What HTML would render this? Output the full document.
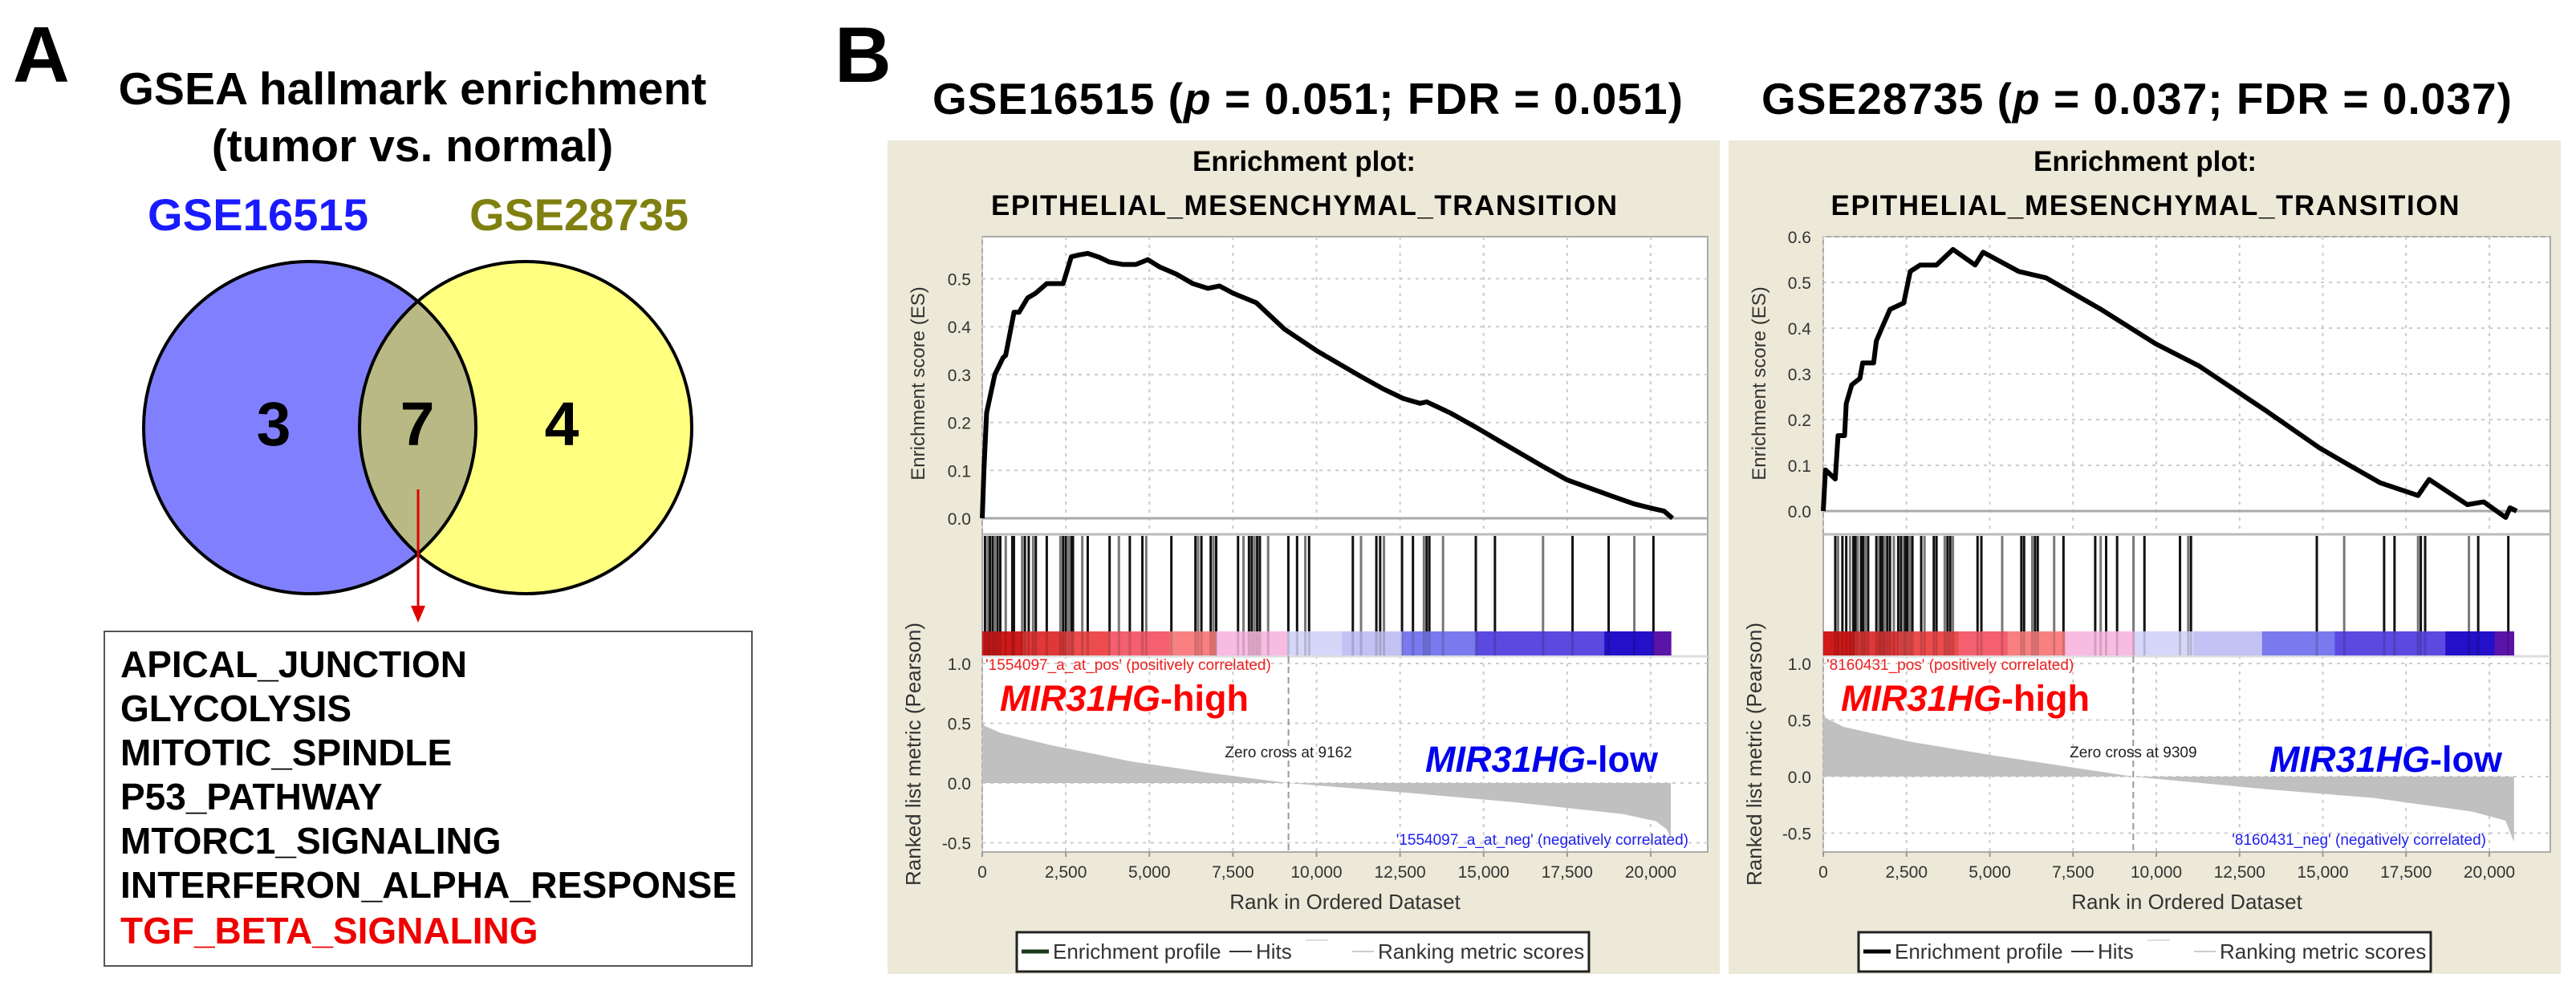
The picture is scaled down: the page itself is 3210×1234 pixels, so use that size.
<!DOCTYPE html>
<html><head><meta charset="utf-8"><style>
html,body{margin:0;padding:0;background:#fff}
svg{display:block;font-family:"Liberation Sans",Arial,sans-serif}
</style></head><body>
<svg id="fig" width="3210" height="1234" viewBox="0 0 3210 1234" xmlns="http://www.w3.org/2000/svg">
<rect x="0" y="0" width="3210" height="1234" fill="#fff"/>
<!-- Panel A -->
<g>
<text x="16" y="102" font-size="98" font-weight="bold">A</text>
<text x="514" y="130" font-size="57" font-weight="bold" text-anchor="middle">GSEA hallmark enrichment</text>
<text x="514" y="201" font-size="57" font-weight="bold" text-anchor="middle">(tumor vs. normal)</text>
<text x="184" y="287" font-size="56" font-weight="bold" fill="#1a1aff" textLength="275">GSE16515</text>
<text x="585" y="287" font-size="56" font-weight="bold" fill="#808010" textLength="273">GSE28735</text>
<defs><clipPath id="cl"><circle cx="386" cy="533" r="207"/></clipPath></defs>
<circle cx="386" cy="533" r="207" fill="#8080ff"/>
<circle cx="655" cy="533" r="207" fill="#ffff80"/>
<circle cx="655" cy="533" r="207" fill="#b9b985" clip-path="url(#cl)"/>
<circle cx="386" cy="533" r="207" fill="none" stroke="#000" stroke-width="4"/>
<circle cx="655" cy="533" r="207" fill="none" stroke="#000" stroke-width="4"/>
<text x="341" y="555" font-size="77" font-weight="bold" text-anchor="middle">3</text>
<text x="520" y="555" font-size="77" font-weight="bold" text-anchor="middle">7</text>
<text x="700" y="555" font-size="77" font-weight="bold" text-anchor="middle">4</text>
<line x1="521" y1="610" x2="521" y2="762" stroke="#e00000" stroke-width="3"/>
<polygon points="512,755 530,755 521,776" fill="#e00000"/>
<rect x="130" y="787" width="807" height="417" fill="#fff" stroke="#555" stroke-width="2"/>
<g font-size="46" font-weight="bold">
<text x="150" y="844">APICAL_JUNCTION</text>
<text x="150" y="899">GLYCOLYSIS</text>
<text x="150" y="954">MITOTIC_SPINDLE</text>
<text x="150" y="1009">P53_PATHWAY</text>
<text x="150" y="1064">MTORC1_SIGNALING</text>
<text x="150" y="1119" textLength="768">INTERFERON_ALPHA_RESPONSE</text>
<text x="150" y="1176" fill="#ee0000">TGF_BETA_SIGNALING</text>
</g>
</g>
<text x="1040" y="102" font-size="98" font-weight="bold">B</text>
<g id="p1"></g>
<g id="p2"></g>
</svg>
<script>
// ---- data: GSE16515 ----
const es1Rank = [0,50,130,376,620,700,950,1100,1357,1600,1930,2200,2420,2665,2900,3156,3500,3800,4200,4600,4955,5300,5800,6300,6750,7100,7500,8200,9040,10000,11330,12000,12600,13100,13300,14000,14770,15500,16730,17500,18850,19500,20080,20400,20650];
const es1Val  = [0,0.10,0.22,0.30,0.335,0.34,0.43,0.43,0.46,0.47,0.49,0.49,0.49,0.546,0.55,0.553,0.545,0.535,0.53,0.53,0.54,0.525,0.51,0.49,0.48,0.485,0.47,0.45,0.395,0.35,0.296,0.27,0.25,0.24,0.243,0.22,0.19,0.16,0.11,0.08,0.046,0.03,0.02,0.015,0];
const hits1 = [82,164,229,311,376,458,540,703,899,948,1194,1276,1390,1521,1603,1930,2338,2420,2502,2584,2666,2715,2993,3156,3810,4088,4415,4791,4906,5658,6378,6459,6557,6835,6917,6999,7653,7817,7980,8062,8144,8226,8307,8553,9158,9419,9665,9779,11087,11333,11791,11905,12019,12559,12886,13213,13295,13377,13786,14767,15339,16778,17661,18741,19509,20081];
const metric1Rank = [0,60,540,2010,4460,6920,9162,12640,15910,19180,20160,20490,20600];
const metric1Val  = [0.53,0.48,0.42,0.32,0.18,0.08,0,-0.08,-0.16,-0.26,-0.32,-0.39,-0.47];
const bar1Edges = [0,1194,2502,3810,5609,6999,9125,10760,12559,14767,18610,20081,20605];
const zeroCross1 = 9162;
// ---- data: GSE28735 ----
const es2Rank = [0,66,360,444,640,690,855,1100,1183,1512,1594,1758,2005,2416,2613,2909,3400,3895,4560,4800,5868,6690,8340,9975,11290,13260,14900,15730,16715,17860,18190,19340,19830,20490,20620,20820];
const es2Val  = [0,0.09,0.07,0.165,0.165,0.235,0.276,0.29,0.324,0.324,0.372,0.40,0.441,0.455,0.524,0.538,0.538,0.572,0.538,0.566,0.524,0.51,0.441,0.366,0.317,0.221,0.138,0.103,0.062,0.034,0.069,0.014,0.02,-0.014,0.007,0];
const hits2 = [361,444,575,690,805,904,969,1035,1134,1199,1265,1347,1594,1676,1725,1791,1840,1922,2004,2119,2251,2333,2415,2465,2530,2612,2678,2941,3040,3319,3401,3647,3730,3812,3894,4633,4748,5373,5948,6030,6276,6358,6440,6933,7213,8166,8330,8494,8823,9316,9644,10712,10959,11041,14820,15642,16841,17153,17860,17942,18073,19387,19666,20570];
const metric2Rank = [0,60,610,2580,5040,7510,9309,13260,16550,19500,20490,20740];
const metric2Val  = [0.58,0.52,0.44,0.31,0.19,0.08,0,-0.11,-0.19,-0.31,-0.39,-0.58];
const bar2Edges = [0,937,2251,4058,5537,7262,9349,11123,13177,15362,18681,20160,20735];
const zeroCross2 = 9309;
// ---- tick labels ----
const xTickVals = [0,2500,5000,7500,10000,12500,15000,17500,20000];
const xTickLabels = ["0","2,500","5,000","7,500","10,000","12,500","15,000","17,500","20,000"];
const es1Ticks = [0,0.1,0.2,0.3,0.4,0.5];
const es2Ticks = [0,0.1,0.2,0.3,0.4,0.5,0.6];
const metricTicks = [1.0,0.5,0,-0.5];
const barColors = ["#d01a1a","#e03838","#ec4c4c","#f46070","#f88080","#f8bce2","#d6d6f8","#c2c2f4","#7a7aee","#5a4ae0","#2410c8","#5a14a8"];

const NS="http://www.w3.org/2000/svg";
function mk(parent,tag,attrs,text){const e=document.createElementNS(NS,tag);for(const k in attrs)e.setAttribute(k,attrs[k]);if(text!==undefined)e.textContent=text;parent.appendChild(e);return e;}

function drawPanel(g,c){
  const X=r=>c.x0+(r/20000)*(c.x20k-c.x0);
  const YE=v=>c.esZero-v*c.esScale;
  const YM=v=>c.mZero-v*c.mScale;
  let e;
  e=mk(g,'rect',{x:c.bx,y:175,width:c.bw,height:1039,fill:'#ece9d8'});
  
  
  e=mk(g,'text',{x:c.titleX,y:142,'font-size':55,'font-weight':'bold',textLength:c.titleW},'');
  
  
  e.appendChild(document.createTextNode(c.title1));
  const ts=mk(e,'tspan',{'font-style':'italic'},'p');
  e.appendChild(document.createTextNode(c.title2));
  e=mk(g,'text',{x:c.emtC,y:213,'font-size':35,'font-weight':'bold','text-anchor':'middle'},'Enrichment plot:');
  
  
  e=mk(g,'text',{x:c.emtC,y:268,'font-size':35,'font-weight':'bold','text-anchor':'middle',textLength:c.emtW},'EPITHELIAL_MESENCHYMAL_TRANSITION');
  
  
  // plot areas
  e=mk(g,'rect',{x:c.x0,y:295,width:c.xr-c.x0,height:1062-295,fill:'#fff',stroke:'#aaa','stroke-width':2});
  
  
  // grids
  xTickVals.forEach(v=>{
    mk(g,'line',{x1:X(v),x2:X(v),y1:295,y2:665,stroke:'#ccc','stroke-width':2,'stroke-dasharray':'4,6'});
    mk(g,'line',{x1:X(v),x2:X(v),y1:817,y2:1062,stroke:'#ccc','stroke-width':2,'stroke-dasharray':'4,6'});
  });
  c.esTicks.forEach(v=>{
    mk(g,'line',{x1:c.x0,x2:c.xr,y1:YE(v),y2:YE(v),stroke:'#ccc','stroke-width':2,'stroke-dasharray':'4,6'});
    e=mk(g,'text',{x:c.tickR,y:YE(v)+8,'font-size':21,fill:'#333','text-anchor':'end'},v.toFixed(1));
    
    
  });
  metricTicks.forEach(v=>{
    mk(g,'line',{x1:c.x0,x2:c.xr,y1:YM(v),y2:YM(v),stroke:'#ccc','stroke-width':2,'stroke-dasharray':'4,6'});
    e=mk(g,'text',{x:c.tickR,y:YM(v)+8,'font-size':21,fill:'#333','text-anchor':'end'},v.toFixed(1));
    
    
  });
  mk(g,'line',{x1:c.x0,x2:c.xr,y1:YE(0),y2:YE(0),stroke:'#aaa','stroke-width':3});
  mk(g,'line',{x1:c.x0,x2:c.xr,y1:666,y2:666,stroke:'#bbb','stroke-width':3});
  mk(g,'line',{x1:c.x0,x2:c.xr,y1:818,y2:818,stroke:'#ddd','stroke-width':3});
  // metric area
  let d='M'+X(c.mR[0])+','+YM(0);
  c.mR.forEach((r,i)=>{d+=' L'+X(r)+','+YM(c.mV[i]);});
  d+=' L'+X(c.mR[c.mR.length-1])+','+YM(0)+' Z';
  e=mk(g,'path',{d:d,fill:'#c0c0c0'});
  
  
  // zero cross
  e=mk(g,'line',{x1:X(c.zc),x2:X(c.zc),y1:818,y2:1062,stroke:'#999','stroke-width':2,'stroke-dasharray':'8,5'});
  
  
  e=mk(g,'text',{x:X(c.zc),y:944,'font-size':19,fill:'#222','text-anchor':'middle'},'Zero cross at '+c.zc);
  
  
  // color bar
  for(let i=0;i<c.bar.length-1;i++){
    e=mk(g,'rect',{x:X(c.bar[i]),y:787,width:X(c.bar[i+1])-X(c.bar[i])+0.5,height:30,fill:barColors[i]});
    
    
  }
  // hits
  c.hits.forEach((r,i)=>{
    e=mk(g,'line',{x1:X(r),x2:X(r),y1:668,y2:787,stroke:i%3===1?'#777':'#111','stroke-width':3});
    
    
    mk(g,'line',{x1:X(r),x2:X(r),y1:787,y2:817,stroke:'rgba(0,0,0,0.15)','stroke-width':3});
  });
  // ES curve
  let pts=c.esR.map((r,i)=>X(r)+','+YE(c.esV[i])).join(' ');
  e=mk(g,'polyline',{points:pts,fill:'none',stroke:'#000','stroke-width':6,'stroke-linejoin':'round'});
  
  
  // x tick labels
  xTickVals.forEach((v,i)=>{
    mk(g,'line',{x1:X(v),x2:X(v),y1:1062,y2:1068,stroke:'#999','stroke-width':2});
    e=mk(g,'text',{x:X(v),y:1094,'font-size':21,fill:'#333','text-anchor':'middle'},xTickLabels[i]);
    
    
  });
  e=mk(g,'text',{x:(c.x0+c.xr)/2,y:1133,'font-size':26,fill:'#333','text-anchor':'middle'},'Rank in Ordered Dataset');
  
  
  e=mk(g,'text',{x:0,y:0,'font-size':24,fill:'#333','text-anchor':'middle',transform:'translate('+(c.ylabX)+',478) rotate(-90)'},'Enrichment score (ES)');
  
  
  e=mk(g,'text',{x:0,y:0,'font-size':26,fill:'#333','text-anchor':'middle',transform:'translate('+(c.ylabX-5)+',940) rotate(-90)'},'Ranked list metric (Pearson)');
  
  
  // annotations
  e=mk(g,'text',{x:c.x0+4,y:835,'font-size':19,fill:'#ee2020'},c.posLabel);
  
  
  e=mk(g,'text',{x:c.negEnd,y:1053,'font-size':19,fill:'#2020ee','text-anchor':'end'},c.negLabel);
  
  
  e=mk(g,'text',{x:c.x0+22,y:886,'font-size':45,'font-weight':'bold',fill:'#ff0000'},'');
  
  
  mk(e,'tspan',{'font-style':'italic'},'MIR31HG');
  mk(e,'tspan',{},'-high');
  e=mk(g,'text',{x:c.lowX,y:962,'font-size':45,'font-weight':'bold',fill:'#0000ee'},'');
  
  
  mk(e,'tspan',{'font-style':'italic'},'MIR31HG');
  mk(e,'tspan',{},'-low');
  // legend
  const lg=mk(g,'g',{});
  
  
  mk(lg,'rect',{x:c.legX,y:1162,width:c.legW,height:49,fill:'#fff',stroke:'#222','stroke-width':3});
  const L=c.legX;
  mk(lg,'line',{x1:L+6,x2:L+40,y1:1186,y2:1186,stroke:c.profColor,'stroke-width':5});
  e=mk(lg,'text',{x:L+45,y:1195,'font-size':26,fill:'#333'},'Enrichment profile');
  
  
  mk(lg,'line',{x1:L+265,x2:L+293,y1:1186,y2:1186,stroke:'#333','stroke-width':2});
  e=mk(lg,'text',{x:L+298,y:1195,'font-size':26,fill:'#333'},'Hits');
  
  
  mk(lg,'line',{x1:L+360,x2:L+388,y1:1172,y2:1172,stroke:'#ddd','stroke-width':2});
  mk(lg,'line',{x1:L+418,x2:L+445,y1:1186,y2:1186,stroke:'#ccc','stroke-width':2});
  e=mk(lg,'text',{x:L+450,y:1195,'font-size':26,fill:'#333'},'Ranking metric scores');
  
  
}

drawPanel(document.getElementById('p1'),{
  bx:1106,bw:1037,title1:'GSE16515 (',title2:' = 0.051; FDR = 0.051)',titleX:1162,titleW:935,
  emtC:1625,emtW:780,x0:1224,x20k:2057,xr:2128,esZero:646,esScale:597,mZero:976,mScale:149,
  esTicks:es1Ticks,tickR:1210,ylabX:1152,esR:es1Rank,esV:es1Val,hits:hits1,mR:metric1Rank,mV:metric1Val,
  bar:bar1Edges,zc:zeroCross1,posLabel:"'1554097_a_at_pos' (positively correlated)",
  negLabel:"'1554097_a_at_neg' (negatively correlated)",negEnd:2104,lowX:1776,
  legX:1267,legW:713,profColor:'#1a3a1a'});
drawPanel(document.getElementById('p2'),{
  bx:2154,bw:1037,title1:'GSE28735 (',title2:' = 0.037; FDR = 0.037)',titleX:2195,titleW:935,
  emtC:2673,emtW:783,x0:2272,x20k:3102,xr:3178,esZero:637,esScale:570,mZero:968,mScale:141,
  esTicks:es2Ticks,tickR:2257,ylabX:2200,esR:es2Rank,esV:es2Val,hits:hits2,mR:metric2Rank,mV:metric2Val,
  bar:bar2Edges,zc:zeroCross2,posLabel:"'8160431_pos' (positively correlated)",
  negLabel:"'8160431_neg' (negatively correlated)",negEnd:3098,lowX:2828,
  legX:2316,legW:713,profColor:'#000'});
</script>
</body></html>
